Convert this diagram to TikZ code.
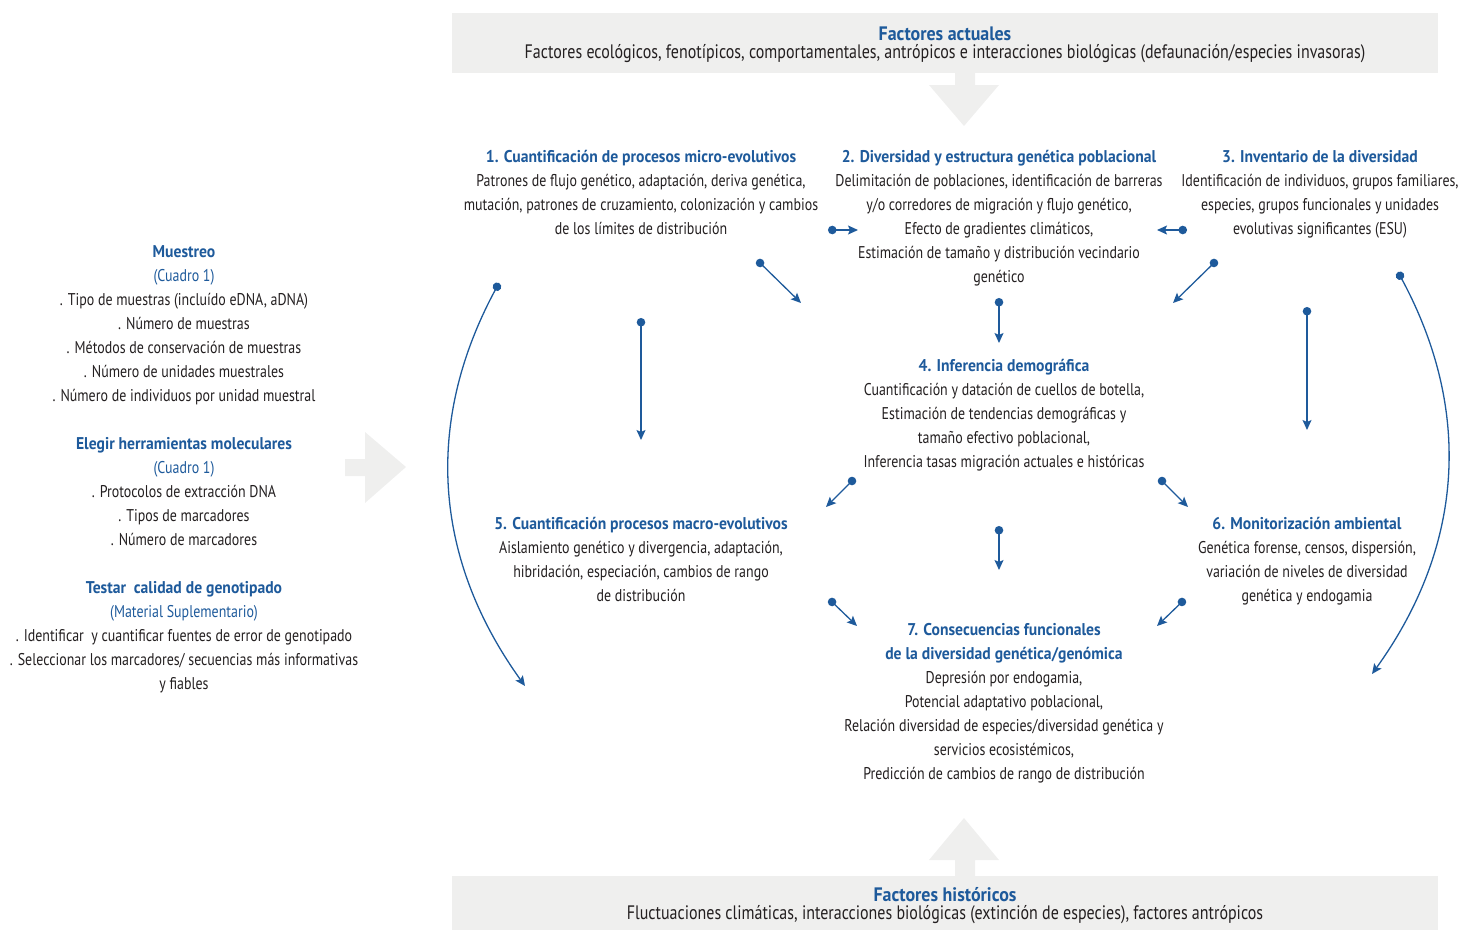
\documentclass[tikz,border=0pt]{standalone}
\usepackage{fontspec}
\setmainfont[FakeStretch=0.82, BoldFeatures={FakeStretch=0.92}]{PT Sans}
\usetikzlibrary{positioning}
\usetikzlibrary{arrows.meta}
\usetikzlibrary{backgrounds}

\definecolor{titleblue}{RGB}{30,90,155}
\definecolor{linkblue}{RGB}{30,90,155}
\definecolor{bandgray}{RGB}{239,239,238}
\definecolor{textblack}{RGB}{35,31,32}

\newcommand{\hd}[1]{{\bfseries\color{titleblue}#1}}
\newcommand{\cq}[1]{{\color{titleblue}#1}}

\begin{document}
\begin{tikzpicture}[
            x = 1pt, y = -1pt,
            > = {Stealth[length=10pt,width=9pt,inset=2pt]}, % arrow head style
            line width = 1.3pt, % line style
            font = \fontsize{17}{24}\selectfont,
            text = textblack
        ]

        \tikzstyle{block}=[
            align = center,
            inner sep = 0pt,
            anchor = base % base of the last line
        ]
        \tikzstyle{link}=[{Circle[length=8.5pt,width=8.5pt]}->, draw = linkblue]
        \tikzstyle{band}=[
            fill = bandgray,
            minimum width = 986pt,
            inner sep = 0pt,
            text depth = 0pt,
            align = center,
            font = \fontsize{19.5}{18}\selectfont
        ]

        \useasboundingbox (0,0) rectangle (1462,930);

        % factors
        \node[band, minimum height = 60pt] (actual) at (945,43) {\hd{Factores actuales}\\ Factores ecológicos, fenotípicos, comportamentales, antrópicos e interacciones biológicas (defaunación/especies invasoras)};
        \node[band, minimum height = 54pt] (histor) at (945,903) {\hd{Factores históricos}\\ Fluctuaciones climáticas, interacciones biológicas (extinción de especies), factores antrópicos};

        \fill[bandgray] (955,73) -- (975,73) -- (975,85) -- (999,85) -- (964,126) -- (929,85) -- (955,85) -- cycle;
        \fill[bandgray] (955,876) -- (975,876) -- (975,860) -- (999,860) -- (964,818) -- (929,860) -- (955,860) -- cycle;
        \fill[bandgray] (345,459) -- (365,459) -- (365,432) -- (406,467) -- (365,503) -- (365,476) -- (345,476) -- cycle;

        % planning
        \node[block] (muestreo) at (184,401) {\hd{Muestreo}\\ \cq{(Cuadro 1)}\\ . Tipo de muestras (incluído eDNA, aDNA)\\ . Número de muestras\\ . Métodos de conservación de muestras\\ . Número de unidades muestrales\\ . Número de individuos por unidad muestral};
        \node[block] (herram) at (184,545) {\hd{Elegir herramientas moleculares}\\ \cq{(Cuadro 1)}\\ . Protocolos de extracción DNA\\ . Tipos de marcadores\\ . Número de marcadores};
        \node[block] (testar) at (184,689) {\hd{Testar\ \ calidad de genotipado}\\ \cq{(Material Suplementario)}\\ . Identificar\ \ y cuantificar fuentes de error de genotipado\\ . Seleccionar los marcadores/ secuencias más informativas\\ y fiables};

        % applications
        \node[block] (micro) at (641,234) {\hd{1. Cuantificación de procesos micro-evolutivos}\\ Patrones de flujo genético, adaptación, deriva genética,\\ mutación, patrones de cruzamiento, colonización y cambios\\ de los límites de distribución};
        \node[block] (estruct) at (999,282) {\hd{2. Diversidad y estructura genética poblacional}\\ Delimitación de poblaciones, identificación de barreras\\ y/o corredores de migración y flujo genético,\\ Efecto de gradientes climáticos,\\ Estimación de tamaño y distribución vecindario\\ genético};
        \node[block] (invent) at (1320,234) {\hd{3. Inventario de la diversidad}\\ Identificación de individuos, grupos familiares,\\ especies, grupos funcionales y unidades\\ evolutivas significantes (ESU)};
        \node[block] (demog) at (1004,467) {\hd{4. Inferencia demográfica}\\ Cuantificación y datación de cuellos de botella,\\ Estimación de tendencias demográficas y\\ tamaño efectivo poblacional,\\ Inferencia tasas migración actuales e históricas};
        \node[block] (macro) at (641,601) {\hd{5. Cuantificación procesos macro-evolutivos}\\ Aislamiento genético y divergencia, adaptación,\\ hibridación, especiación, cambios de rango\\ de distribución};
        \node[block] (monit) at (1307,601) {\hd{6. Monitorización ambiental}\\ Genética forense, censos, dispersión,\\ variación de niveles de diversidad\\ genética y endogamia};
        \node[block] (funcion) at (1004,779) {\hd{7. Consecuencias funcionales}\\ \hd{de la diversidad genética/genómica}\\ Depresión por endogamia,\\ Potencial adaptativo poblacional,\\ Relación diversidad de especies/diversidad genética y\\ servicios ecosistémicos,\\ Predicción de cambios de rango de distribución};

        % arrow ends
        \coordinate (a12) at (828,230);   \coordinate (b12) at (858,230);
        \coordinate (a32) at (1187,230);  \coordinate (b32) at (1157,230);
        \coordinate (a14) at (757,260);   \coordinate (b14) at (801,303);
        \coordinate (a34) at (1217,260);  \coordinate (b34) at (1173,303);
        \coordinate (a24) at (999,298);   \coordinate (b24) at (999,343);
        \coordinate (a15) at (641,318);   \coordinate (b15) at (641,440);
        \coordinate (a36) at (1307,307);  \coordinate (b36) at (1307,430);
        \coordinate (a45) at (855,478);   \coordinate (b45) at (826,507);
        \coordinate (a46) at (1159,478);  \coordinate (b46) at (1188,507);
        \coordinate (a47) at (999,526);   \coordinate (b47) at (999,570);
        \coordinate (a57) at (829,599);   \coordinate (b57) at (857,626);
        \coordinate (a67) at (1185,599);  \coordinate (b67) at (1157,626);
        \coordinate (aL) at (499,283);    \coordinate (bL) at (525,686);
        \coordinate (aR) at (1398,272);   \coordinate (bR) at (1372,674);

        \draw[link] (a12) -- (b12);
        \draw[link] (a32) -- (b32);
        \draw[link] (a14) -- (b14);
        \draw[link] (a34) -- (b34);
        \draw[link] (a24) -- (b24);
        \draw[link] (a15) -- (b15);
        \draw[link] (a36) -- (b36);
        \draw[link] (a45) -- (b45);
        \draw[link] (a46) -- (b46);
        \draw[link] (a47) -- (b47);
        \draw[link] (a57) -- (b57);
        \draw[link] (a67) -- (b67);

        \draw[link] (aL) to[bend right=32] (bL);
        \draw[link] (aR) to[bend left=32] (bR);

\end{tikzpicture}
\end{document}
